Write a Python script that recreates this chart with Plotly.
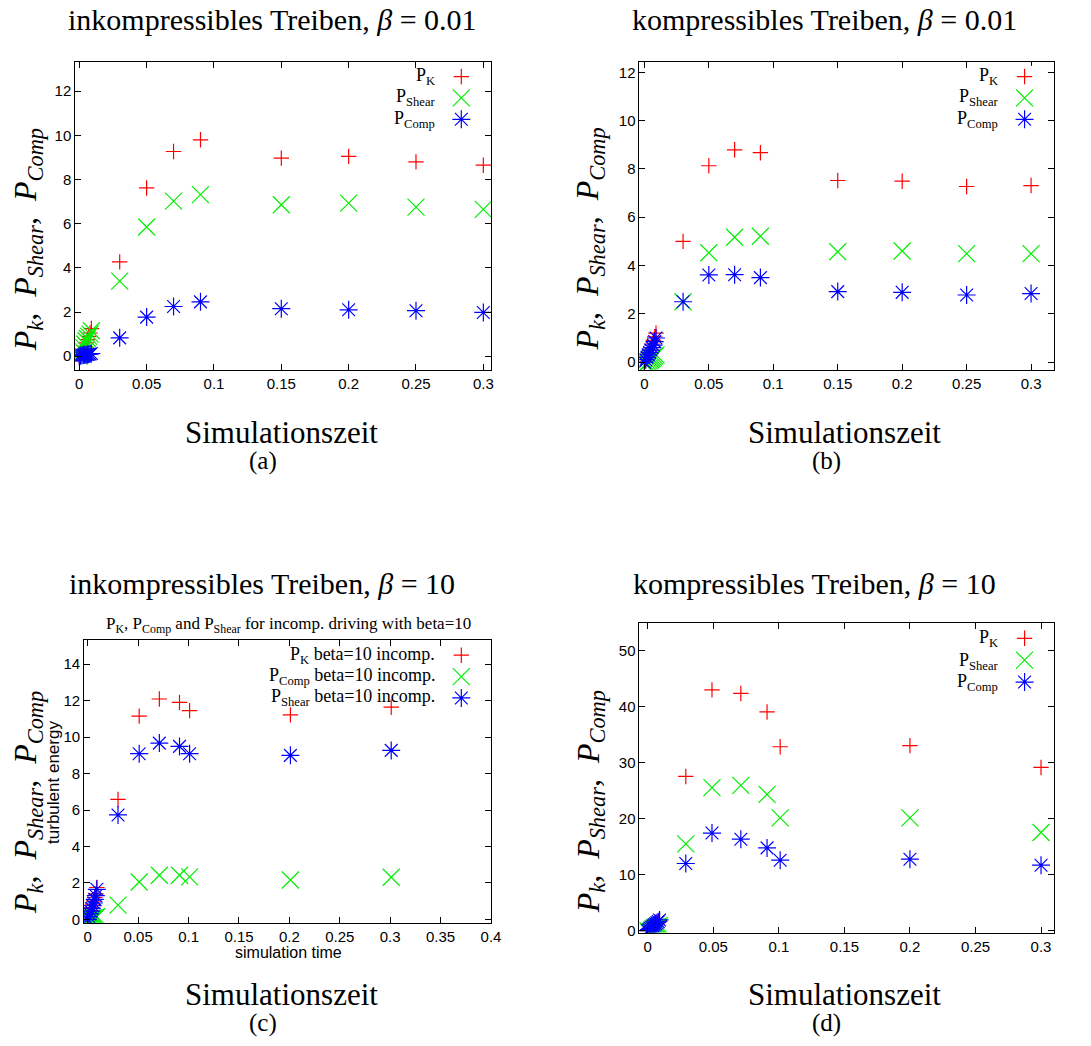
import plotly.graph_objects as go

W, H = 1091, 1046

# ---------------- data ----------------
t_early = [0.0, 0.001, 0.002, 0.003, 0.004, 0.005, 0.006, 0.007, 0.008, 0.009]

# (a) incompressible, beta = 0.01
t_a = [0.03, 0.05, 0.07, 0.09, 0.15, 0.20, 0.25, 0.30]
a_pk_early = [0.0, 0.05, 0.15, 0.3, 0.45, 0.6, 0.75, 0.9, 1.05, 1.25]
a_sh_early = [0.0, 0.1, 0.25, 0.4, 0.55, 0.7, 0.8, 0.9, 1.0, 1.15]
a_co_early = [0.0, 0.02, 0.04, 0.05, 0.06, 0.07, 0.08, 0.09, 0.1, 0.12]
a_pk = [4.27, 7.62, 9.27, 9.8, 8.97, 9.05, 8.8, 8.65]
a_sh = [3.4, 5.85, 7.02, 7.32, 6.86, 6.93, 6.75, 6.65]
a_co = [0.83, 1.77, 2.25, 2.46, 2.15, 2.1, 2.06, 1.98]

# (b) compressible, beta = 0.01
t_b = [0.03, 0.05, 0.07, 0.09, 0.15, 0.20, 0.25, 0.30]
b_pk_early = [0.0, 0.1, 0.2, 0.35, 0.5, 0.6, 0.75, 0.9, 1.05, 1.2]
b_sh_early = [0.0, -0.1, -0.05, 0.0, 0.05, 0.1, 0.15, 0.2, 0.25, 0.3]
b_co_early = [0.0, 0.1, 0.2, 0.3, 0.4, 0.5, 0.6, 0.7, 0.85, 1.0]
b_pk = [5.0, 8.13, 8.79, 8.67, 7.52, 7.49, 7.27, 7.31]
b_sh = [2.5, 4.53, 5.17, 5.21, 4.57, 4.6, 4.49, 4.49]
b_co = [2.5, 3.61, 3.62, 3.5, 2.92, 2.89, 2.78, 2.84]

# (c) incompressible, beta = 10
t_c = [0.03, 0.051, 0.071, 0.091, 0.101, 0.201, 0.301]
c_pk_early = [0.0, 0.15, 0.3, 0.5, 0.65, 0.8, 1.0, 1.2, 1.4, 1.75]
c_co_early = [0.0, 0.0, 0.02, 0.03, 0.05, 0.06, 0.08, 0.1, 0.12, 0.15]
c_sh_early = [0.0, 0.15, 0.3, 0.45, 0.6, 0.75, 0.9, 1.1, 1.3, 1.65]
c_pk = [6.58, 11.15, 12.09, 11.9, 11.45, 11.22, 11.64]
c_co = [0.78, 2.05, 2.42, 2.42, 2.33, 2.16, 2.31]
c_sh = [5.73, 9.09, 9.67, 9.49, 9.09, 9.0, 9.27]

# (d) compressible, beta = 10
t_d = [0.029, 0.049, 0.071, 0.091, 0.101, 0.20, 0.30]
d_pk_early = [0.0, 0.2, 0.4, 0.6, 0.8, 1.0, 1.2, 1.4, 1.6, 1.8]
d_sh_early = [0.0, -0.3, -0.2, 0.1, 0.3, 0.5, 0.6, 0.7, 0.8, 0.9]
d_co_early = [0.0, 0.2, 0.4, 0.6, 0.8, 1.0, 1.2, 1.4, 1.6, 1.9]
d_pk = [27.5, 42.95, 42.3, 39.0, 32.8, 33.0, 29.1]
d_sh = [15.46, 25.5, 25.9, 24.3, 20.1, 20.1, 17.5]
d_co = [11.97, 17.4, 16.3, 14.75, 12.56, 12.74, 11.67]

titles = ["inkompressibles Treiben, <i>β</i> = 0.01",
          "kompressibles Treiben, <i>β</i> = 0.01",
          "inkompressibles Treiben, <i>β</i> = 10",
          "kompressibles Treiben, <i>β</i> = 10"]
legend_std = ["P<sub>K</sub>", "P<sub>Shear</sub>", "P<sub>Comp</sub>"]
legend_c = ["P<sub>K</sub> beta=10 incomp.", "P<sub>Comp</sub> beta=10 incomp.",
            "P<sub>Shear</sub> beta=10 incomp."]
panel_tags = ["(a)", "(b)", "(c)", "(d)"]
ylabel = "<i>P<sub>k</sub></i>,&nbsp; <i>P<sub>Shear</sub></i>,&nbsp; <i>P<sub>Comp</sub></i>"
xlabel = "Simulationszeit"

# ---------------- styles ----------------
RED, GREEN, BLUE = "#ff0000", "#00ee00", "#0000ff"
sym_plus = dict(symbol="cross-thin", size=11, line=dict(color=RED, width=1.2), color=RED)
sym_x = dict(symbol="x-thin", size=17, line=dict(color=GREEN, width=1.2), color=GREEN)
sym_x_blue = dict(symbol="asterisk", size=15, line=dict(color=BLUE, width=1.2), color=BLUE)


def px(xp):
    return xp / W


def py(yp):
    return 1 - yp / H


# panel geometry (pixels): left, right, top, bottom
panels = [
    dict(box=(75, 495, 62, 372), xr=[-0.003, 0.3057], yr=[-0.62, 13.34], ydt=2, ymax=12, xmax=0.3,
         title=(274, 20), ylab=(27, 241), xlab=(283, 435), tag=(265, 464),
         leg_rows=(77, 98, 120), leg_text=440, leg_mark=465),
    dict(box=(645, 1064, 62, 372), xr=[-0.0038, 0.318], yr=[-0.32, 12.44], ydt=2, ymax=12, xmax=0.3,
         title=(832, 20), ylab=(595, 241), xlab=(852, 435), tag=(834, 464),
         leg_rows=(77, 98, 120), leg_text=1009, leg_mark=1034),
    dict(box=(84, 495, 644, 928), xr=[-0.0036, 0.4], yr=[-0.18, 15.31], ydt=2, ymax=14, xmax=0.4,
         title=(264, 587), ylab=(27, 807), xlab=(283, 1000), tag=(265, 1029),
         leg_rows=(659, 680, 702), leg_text=440, leg_mark=465),
    dict(box=(645, 1064, 627, 938), xr=[-0.0063, 0.3101], yr=[-0.36, 54.8], ydt=10, ymax=50, xmax=0.3,
         title=(822, 587), ylab=(595, 807), xlab=(852, 1000), tag=(834, 1029),
         leg_rows=(642, 665, 686), leg_text=1009, leg_mark=1034),
]

series = [
    [(t_early + t_a, a_pk_early + a_pk, sym_plus),
     (t_early + t_a, a_sh_early + a_sh, sym_x),
     (t_early + t_a, a_co_early + a_co, sym_x_blue)],
    [(t_early + t_b, b_pk_early + b_pk, sym_plus),
     (t_early + t_b, b_sh_early + b_sh, sym_x),
     (t_early + t_b, b_co_early + b_co, sym_x_blue)],
    [(t_early + t_c, c_pk_early + c_pk, sym_plus),
     (t_early + t_c, c_co_early + c_co, sym_x),
     (t_early + t_c, c_sh_early + c_sh, sym_x_blue)],
    [(t_early + t_d, d_pk_early + d_pk, sym_plus),
     (t_early + t_d, d_sh_early + d_sh, sym_x),
     (t_early + t_d, d_co_early + d_co, sym_x_blue)],
]
legend_labels = [legend_std, legend_std, legend_c, legend_std]

fig = go.Figure()
layout = dict(width=W, height=H, margin=dict(l=0, r=0, t=0, b=0),
              paper_bgcolor="white", plot_bgcolor="white", showlegend=False)
annotations = []

SERIF = "Liberation Serif"
SANS = "Liberation Sans"

axis_common = dict(showline=True, linecolor="black", linewidth=1, mirror="ticks",
                   ticks="inside", ticklen=6, tickwidth=1, tickcolor="black",
                   showgrid=False, zeroline=False,
                   tickfont=dict(family=SANS, size=15, color="black"))

for i, p in enumerate(panels):
    n = i + 1
    xa = "xaxis" if n == 1 else f"xaxis{n}"
    ya = "yaxis" if n == 1 else f"yaxis{n}"
    xr = "x" if n == 1 else f"x{n}"
    yr = "y" if n == 1 else f"y{n}"
    l, r, t, b = p["box"]
    xtv = [k * 0.05 for k in range(int(round(p["xmax"] / 0.05)) + 1)]
    ytv = list(range(0, p["ymax"] + 1, p["ydt"]))
    layout[xa] = dict(axis_common, domain=[px(l), px(r)], range=p["xr"], anchor=yr,
                      tickvals=xtv, ticktext=[f"{v:g}" for v in xtv])
    layout[ya] = dict(axis_common, domain=[py(b), py(t)], range=p["yr"], anchor=xr,
                      tickvals=ytv)
    for xs, ys, mk in series[i]:
        fig.add_trace(go.Scatter(x=xs, y=ys, mode="markers", marker=mk,
                                 xaxis=xr, yaxis=yr, hoverinfo="skip", cliponaxis=True))

    # legend key axis
    m = n + 4
    rows = p["leg_rows"]
    sp = (rows[2] - rows[0]) / 2
    layout[f"xaxis{m}"] = dict(domain=[px(p["leg_mark"] - 15), px(p["leg_mark"] + 15)],
                               range=[-1, 1], visible=False, anchor=f"y{m}")
    layout[f"yaxis{m}"] = dict(domain=[py(rows[2] + sp / 2), py(rows[0] - sp / 2)],
                               range=[2.5, -0.5], visible=False, anchor=f"x{m}")
    for k, (_, _, mk) in enumerate(series[i]):
        fig.add_trace(go.Scatter(x=[0], y=[k], mode="markers", marker=mk,
                                 xaxis=f"x{m}", yaxis=f"y{m}", hoverinfo="skip"))
        annotations.append(dict(text=legend_labels[i][k], x=px(p["leg_text"]),
                                y=py(rows[k]), xref="paper", yref="paper",
                                xanchor="right", yanchor="middle", showarrow=False,
                                font=dict(family=SERIF, size=18, color="black")))

    # outer texts
    annotations.append(dict(text=titles[i], x=px(p["title"][0]), y=py(p["title"][1]),
                            xref="paper", yref="paper", xanchor="center", yanchor="middle",
                            showarrow=False, font=dict(family=SERIF, size=30, color="black")))
    annotations.append(dict(text=ylabel, x=px(p["ylab"][0]), y=py(p["ylab"][1]),
                            xref="paper", yref="paper", xanchor="center", yanchor="middle",
                            textangle=-90, showarrow=False,
                            font=dict(family=SERIF, size=32, color="black")))
    annotations.append(dict(text=xlabel, x=px(p["xlab"][0]), y=py(p["xlab"][1]),
                            xref="paper", yref="paper", xanchor="center", yanchor="middle",
                            showarrow=False, font=dict(family=SERIF, size=31, color="black")))
    annotations.append(dict(text=panel_tags[i], x=px(p["tag"][0]), y=py(p["tag"][1]),
                            xref="paper", yref="paper", xanchor="center", yanchor="middle",
                            showarrow=False, font=dict(family=SERIF, size=25, color="black")))

# inner gnuplot labels of panel (c)
annotations.append(dict(text="P<sub>K</sub>, P<sub>Comp</sub> and P<sub>Shear</sub> for incomp. driving with beta=10",
                        x=px(290), y=py(629), xref="paper", yref="paper",
                        xanchor="center", yanchor="middle", showarrow=False,
                        font=dict(family=SERIF, size=17, color="black")))
annotations.append(dict(text="turbulent energy", x=px(53), y=py(787), xref="paper", yref="paper",
                        xanchor="center", yanchor="middle", textangle=-90, showarrow=False,
                        font=dict(family=SANS, size=17, color="black")))
annotations.append(dict(text="simulation time", x=px(290), y=py(958), xref="paper", yref="paper",
                        xanchor="center", yanchor="middle", showarrow=False,
                        font=dict(family=SANS, size=16, color="black")))

layout["annotations"] = annotations
fig.update_layout(**layout)
fig.write_html("out.html", post_script="document.body.style.margin='0px';",
               config={"displayModeBar": False})
